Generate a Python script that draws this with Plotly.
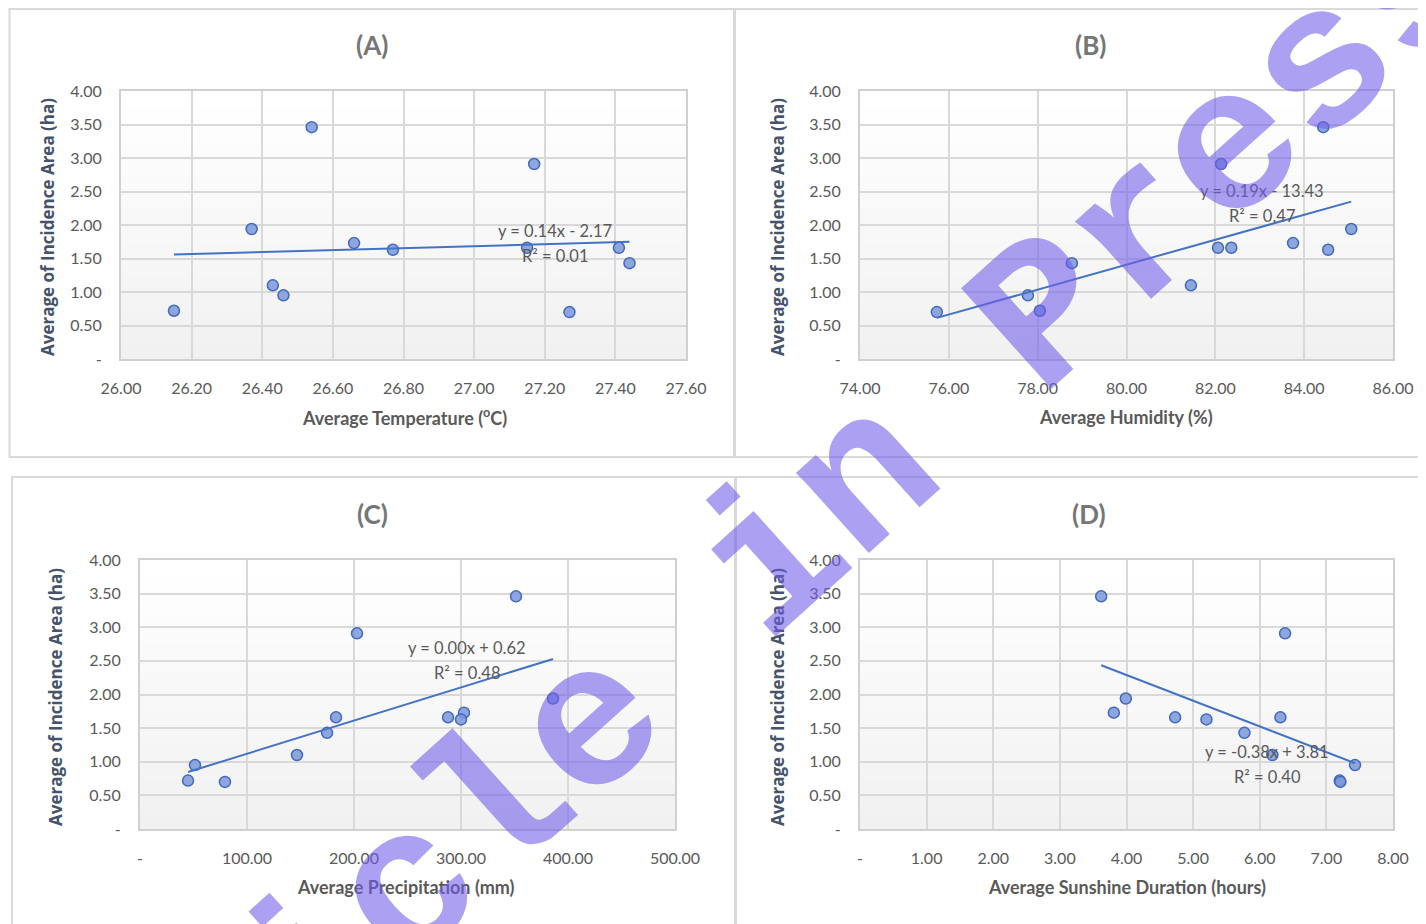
import numpy as np
import plotly.graph_objects as go

# ---------------- data ----------------
incidence = [0.72, 1.94, 1.10, 0.95, 3.46, 1.73, 1.63, 1.66, 2.91, 0.70, 1.66, 1.43]
temperature = [26.15, 26.37, 26.43, 26.46, 26.54, 26.66, 26.77, 27.15, 27.17, 27.27, 27.41, 27.44]
humidity = [78.05, 85.06, 81.45, 77.78, 84.43, 83.75, 84.54, 82.06, 82.13, 75.73, 82.36, 78.77]
precipitation = [44.9, 386.0, 146.7, 51.4, 351.4, 302.8, 300.0, 287.9, 202.8, 79.4, 183.2, 174.8]
sunshine = [7.20, 3.99, 6.19, 7.43, 3.62, 3.81, 5.20, 4.73, 6.38, 7.21, 6.31, 5.77]

panel_titles = ["(A)", "(B)", "(C)", "(D)"]
x_titles = ["Average Temperature (<sup>o</sup>C)", "Average Humidity (%)",
            "Average Precipitation (mm)", "Average Sunshine Duration (hours)"]
y_title = "Average of Incidence Area (ha)"
equations = ["y = 0.14x - 2.17", "y = 0.19x - 13.43", "y = 0.00x + 0.62", "y = -0.38x + 3.81"]
r2_labels = ["R² = 0.01", "R² = 0.47", "R² = 0.48", "R² = 0.40"]

y_ticks = [0, 0.5, 1.0, 1.5, 2.0, 2.5, 3.0, 3.5, 4.0]
y_ticktext = ["-", "0.50", "1.00", "1.50", "2.00", "2.50", "3.00", "3.50", "4.00"]
x_ticks = [
    [26.0, 26.2, 26.4, 26.6, 26.8, 27.0, 27.2, 27.4, 27.6],
    [74, 76, 78, 80, 82, 84, 86],
    [0, 100, 200, 300, 400, 500],
    [0, 1, 2, 3, 4, 5, 6, 7, 8],
]
x_ticktext = [
    ["26.00", "26.20", "26.40", "26.60", "26.80", "27.00", "27.20", "27.40", "27.60"],
    ["74.00", "76.00", "78.00", "80.00", "82.00", "84.00", "86.00"],
    ["-", "100.00", "200.00", "300.00", "400.00", "500.00"],
    ["-", "1.00", "2.00", "3.00", "4.00", "5.00", "6.00", "7.00", "8.00"],
]
x_ranges = [[26.0, 27.6], [74, 86], [0, 500], [0, 8]]
# label positions (data coords of each panel)
label_pos = [(27.23, 1.91, 1.54), (83.05, 2.51, 2.14), (305.6, 2.69, 2.32), (6.11, 1.145, 0.77)]

xs = [temperature, humidity, precipitation, sunshine]

# ---------------- layout geometry (screen pixels -> paper) ----------------
OFF = 8                      # page body margin
W, H = 1426 - OFF, 924 - OFF
def px(x):
    return (x - OFF) / W
def py(y):
    return 1 - (y - OFF) / H

plot_boxes = [(121, 686, 91, 359), (860, 1393, 91, 359), (140, 675, 560, 829), (860, 1393, 560, 829)]
panel_boxes = [(9.5, 734, 9, 457), (735, 1430, 9, 457), (12, 735, 477, 930), (736, 1430, 477, 930)]
title_pos = [(372, 45), (1090, 45), (372, 514), (1089, 514)]
xtitle_pos = [(404, 417), (1126, 417), (406, 887), (1127, 887)]
ytitle_pos = [(47, 227), (777, 227), (55, 697), (777, 697)]

GRAY = "#595959"
GRID = "#d9d9d9"
FONT = "Lato"

fig = go.Figure()
shapes = []
annotations = []
layout_axes = {}

for i in range(4):
    n = "" if i == 0 else str(i + 1)
    xa, ya = "x" + n, "y" + n
    x0, x1, y0, y1 = plot_boxes[i]
    layout_axes["xaxis" + n] = dict(
        domain=[px(x0), px(x1)], range=x_ranges[i], anchor=ya,
        tickvals=x_ticks[i], ticktext=x_ticktext[i],
        showgrid=True, gridcolor=GRID, gridwidth=2,
        showline=True, linecolor="#d0d0d0", linewidth=2, mirror=True,
        ticks="outside", ticklen=14, tickcolor="rgba(0,0,0,0)",
        tickfont=dict(family=FONT, size=16, color=GRAY), zeroline=False,
    )
    layout_axes["yaxis" + n] = dict(
        domain=[py(y1), py(y0)], range=[0, 4], anchor=xa,
        tickvals=y_ticks, ticktext=y_ticktext,
        showgrid=True, gridcolor=GRID, gridwidth=2,
        showline=True, linecolor="#d0d0d0", linewidth=2, mirror=True,
        ticks="outside", ticklen=14, tickcolor="rgba(0,0,0,0)",
        tickfont=dict(family=FONT, size=16, color=GRAY), zeroline=False,
    )
    # gradient background strips
    nstrip = 16
    for k in range(nstrip):
        g = int(round(255 - 14 * (k + 0.5) / nstrip))
        shapes.append(dict(type="rect", xref=xa + " domain", yref=ya + " domain",
                           x0=0, x1=1, y0=1 - (k + 1) / nstrip, y1=1 - k / nstrip,
                           fillcolor=f"rgb({g},{g},{g})", line=dict(width=0), layer="below"))
    # panel border
    bx0, bx1, by0, by1 = panel_boxes[i]
    shapes.append(dict(type="rect", xref="paper", yref="paper",
                       x0=px(bx0), x1=px(bx1), y0=py(by1), y1=py(by0),
                       line=dict(color="#d9d9d9", width=2), fillcolor="rgba(0,0,0,0)", layer="below"))

    # scatter points
    fig.add_trace(go.Scatter(
        x=xs[i], y=incidence, mode="markers", xaxis=xa, yaxis=ya, showlegend=False,
        marker=dict(size=11, color="rgba(122,152,216,0.85)", line=dict(color="#4169bf", width=1.5)),
    ))
    # linear trendline
    slope, intercept = np.polyfit(xs[i], incidence, 1)
    tx = np.array([min(xs[i]), max(xs[i])])
    fig.add_trace(go.Scatter(
        x=tx, y=slope * tx + intercept, mode="lines", xaxis=xa, yaxis=ya, showlegend=False,
        line=dict(color="#4472c4", width=2),
    ))

    lx, ly1, ly2 = label_pos[i]
    annotations.append(dict(x=lx, y=ly1, xref=xa, yref=ya, text=equations[i], showarrow=False,
                            xanchor="center", yanchor="middle",
                            font=dict(family=FONT, size=16.5, color=GRAY)))
    annotations.append(dict(x=lx, y=ly2, xref=xa, yref=ya, text=r2_labels[i], showarrow=False,
                            xanchor="center", yanchor="middle",
                            font=dict(family=FONT, size=16.5, color=GRAY)))

    tx_, ty_ = title_pos[i]
    annotations.append(dict(x=px(tx_), y=py(ty_), xref="paper", yref="paper", text=panel_titles[i],
                            xanchor="center", yanchor="middle", showarrow=False,
                            font=dict(family=FONT, size=26, color="#767676", weight="bold")))
    xx, xy = xtitle_pos[i]
    annotations.append(dict(x=px(xx), y=py(xy), xref="paper", yref="paper", text=x_titles[i],
                            xanchor="center", yanchor="middle", showarrow=False,
                            font=dict(family=FONT, size=18, color=GRAY, weight="bold")))
    yx, yy = ytitle_pos[i]
    annotations.append(dict(x=px(yx), y=py(yy), xref="paper", yref="paper", text=y_title, textangle=-90,
                            xanchor="center", yanchor="middle", showarrow=False,
                            font=dict(family="Open Sans", size=17, color="#44546a", weight="bold")))

# watermark
annotations.append(dict(x=px(730), y=py(604), xref="paper", yref="paper", text="Article in Press",
                        xanchor="center", yanchor="middle", textangle=-42, showarrow=False,
                        font=dict(family="Liberation Mono", size=205, color="rgba(112,92,232,0.58)", weight="bold")))

fig.update_layout(
    width=W, height=H, margin=dict(l=0, r=0, t=0, b=0, autoexpand=False),
    paper_bgcolor="white", plot_bgcolor="white",
    shapes=shapes, annotations=annotations, **layout_axes,
)

fig.write_html("out.html")
